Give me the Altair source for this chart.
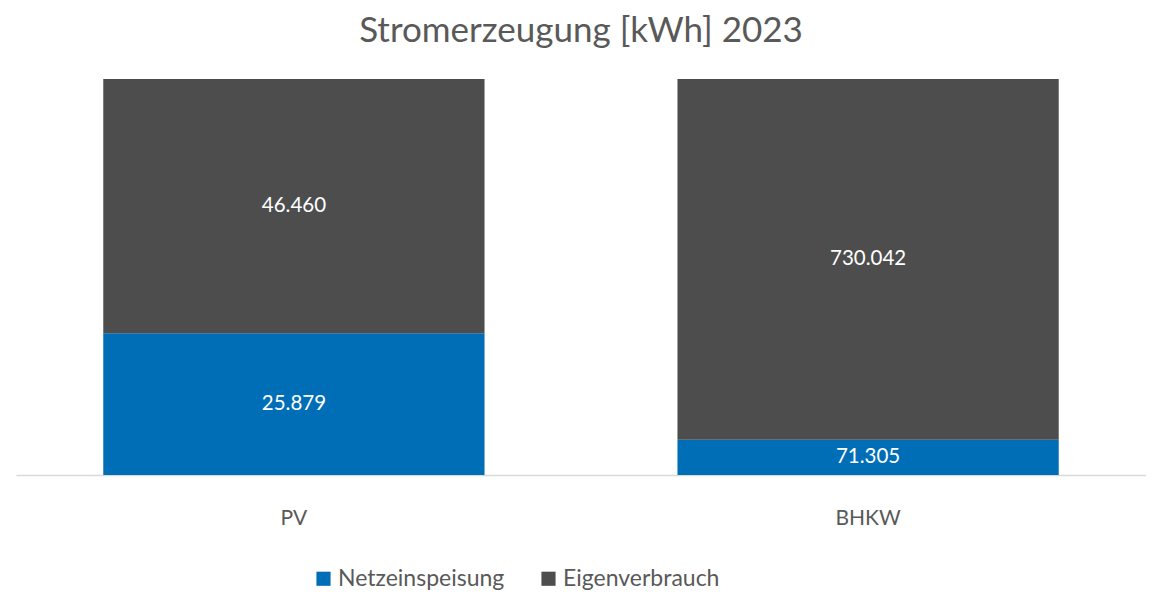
import altair as alt
import pandas as pd

categories = ["PV", "BHKW"]
series = ["Netzeinspeisung", "Eigenverbrauch"]
netzeinspeisung = [25879, 71305]
eigenverbrauch = [46460, 730042]
colors = ["#006EB7", "#4D4D4D"]

rows = []
for i, c in enumerate(categories):
    for j, (s, vals) in enumerate(zip(series, [netzeinspeisung, eigenverbrauch])):
        v = vals[i]
        rows.append({"cat": c, "series": s, "order": j, "value": v,
                     "label": f"{v:,}".replace(",", ".")})
df = pd.DataFrame(rows)

base = alt.Chart(df).transform_stack(
    stack="value", groupby=["cat"], as_=["y0", "y1"], offset="normalize",
    sort=[alt.SortField("order", order="ascending")]
).transform_calculate(mid="(datum.y0 + datum.y1) / 2")

x = alt.X("cat:N", sort=categories, title=None,
          scale=alt.Scale(paddingInner=0.336, paddingOuter=0.152),
          axis=alt.Axis(labelAngle=0, ticks=False, labelPadding=32, labelFontSize=21,
                        labelColor="#595959", domainColor="#D9D9D9", domainWidth=1.5,
                        labelFont="Lato"))

bars = base.mark_bar().encode(
    x=x,
    y=alt.Y("y0:Q", axis=None, scale=alt.Scale(domain=[0, 1])),
    y2="y1:Q",
    color=alt.Color("series:N", sort=series,
                    scale=alt.Scale(domain=series, range=colors),
                    legend=alt.Legend(title=None, orient="none", direction="horizontal",
                                      legendX=296, legendY=488, symbolType="square",
                                      symbolSize=200, symbolStrokeWidth=0,
                                      labelFontSize=23, labelColor="#595959", labelLimit=400,
                                      labelFont="Lato", columnPadding=32, labelOffset=3)),
)

texts = base.mark_text(color="white", fontSize=20.5, font="Lato").encode(
    x=alt.X("cat:N", sort=categories),
    y=alt.Y("mid:Q", scale=alt.Scale(domain=[0, 1])),
    text="label:N",
)

chart = (bars + texts).properties(
    width=1130, height=396,
    title=alt.TitleParams("Stromerzeugung [kWh] 2023", fontSize=35, font="Lato",
                          fontWeight="normal", color="#595959", offset=30),
    autosize=alt.AutoSizeParams(type="none"),
    padding={"left": 8, "top": 71, "right": 0, "bottom": 117},
).configure_view(stroke=None)

chart.save("out.html", embed_options={"renderer": "svg", "actions": False})
